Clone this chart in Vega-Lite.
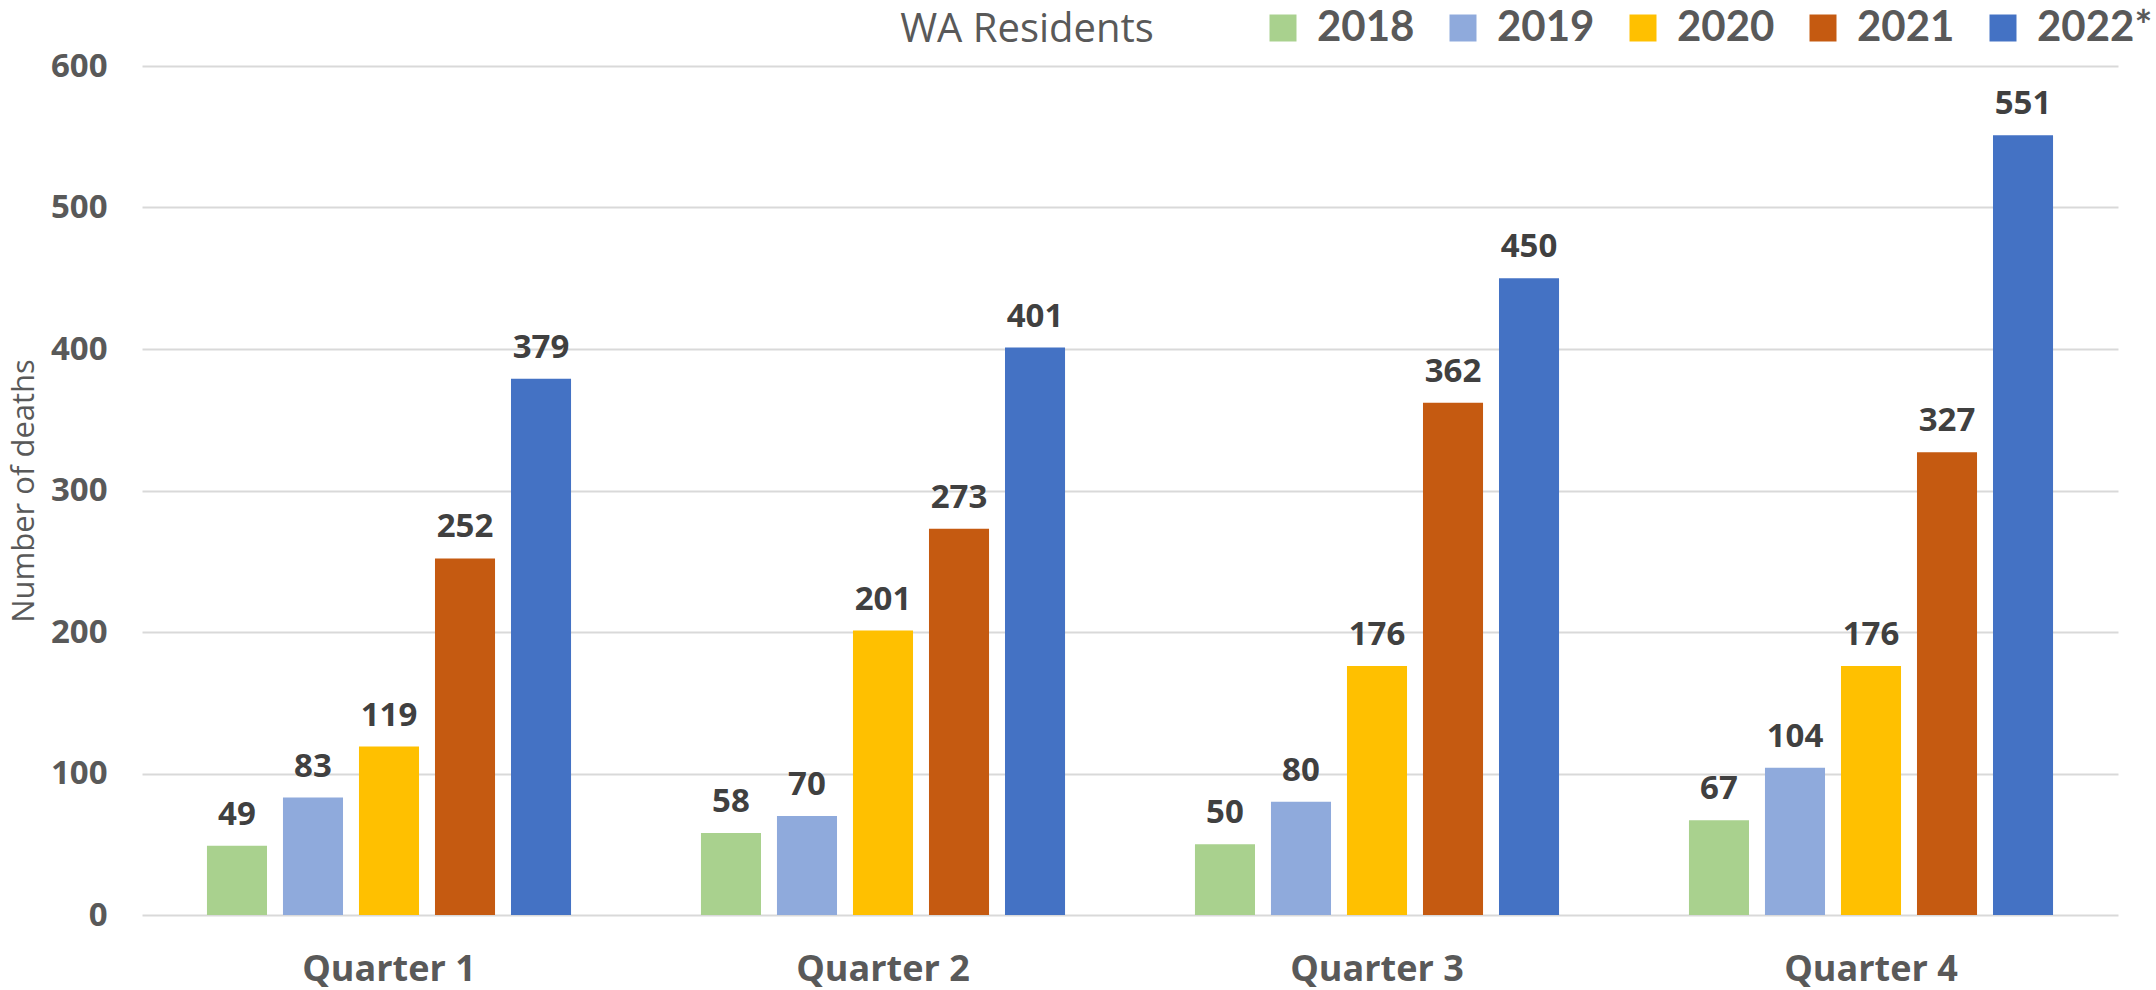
{
  "$schema": "https://vega.github.io/schema/vega-lite/v6.json",
  "width": 1976,
  "height": 849,
  "autosize": {"type": "none"},
  "padding": {"left": 142, "top": 66, "right": 38, "bottom": 75},
  "background": "white",
  "config": {"view": {"stroke": null}},
  "title": {
    "text": "WA Residents",
    "font": "Open Sans",
    "fontSize": 40,
    "fontWeight": "normal",
    "color": "#595959",
    "anchor": "middle",
    "frame": "group",
    "baseline": "alphabetic",
    "dx": -103,
    "dy": 100,
    "offset": 25
  },
  "data": {
    "values": [
      {"quarter": "Quarter 1", "year": "2018", "deaths": 49},
      {"quarter": "Quarter 1", "year": "2019", "deaths": 83},
      {"quarter": "Quarter 1", "year": "2020", "deaths": 119},
      {"quarter": "Quarter 1", "year": "2021", "deaths": 252},
      {"quarter": "Quarter 1", "year": "2022*", "deaths": 379},
      {"quarter": "Quarter 2", "year": "2018", "deaths": 58},
      {"quarter": "Quarter 2", "year": "2019", "deaths": 70},
      {"quarter": "Quarter 2", "year": "2020", "deaths": 201},
      {"quarter": "Quarter 2", "year": "2021", "deaths": 273},
      {"quarter": "Quarter 2", "year": "2022*", "deaths": 401},
      {"quarter": "Quarter 3", "year": "2018", "deaths": 50},
      {"quarter": "Quarter 3", "year": "2019", "deaths": 80},
      {"quarter": "Quarter 3", "year": "2020", "deaths": 176},
      {"quarter": "Quarter 3", "year": "2021", "deaths": 362},
      {"quarter": "Quarter 3", "year": "2022*", "deaths": 450},
      {"quarter": "Quarter 4", "year": "2018", "deaths": 67},
      {"quarter": "Quarter 4", "year": "2019", "deaths": 104},
      {"quarter": "Quarter 4", "year": "2020", "deaths": 176},
      {"quarter": "Quarter 4", "year": "2021", "deaths": 327},
      {"quarter": "Quarter 4", "year": "2022*", "deaths": 551}
    ]
  },
  "encoding": {
    "x": {
      "field": "quarter",
      "type": "nominal",
      "sort": null,
      "scale": {"paddingInner": 0.263, "paddingOuter": 0.1315},
      "axis": {
        "title": null,
        "domain": false,
        "ticks": false,
        "labelAngle": 0,
        "labelFont": "Open Sans",
        "labelFontSize": 36,
        "labelFontWeight": "bold",
        "labelColor": "#595959",
        "labelPadding": 37
      }
    },
    "xOffset": {
      "field": "year",
      "type": "nominal",
      "sort": null,
      "scale": {"paddingInner": 0.21, "paddingOuter": 0}
    },
    "y": {
      "field": "deaths",
      "type": "quantitative",
      "scale": {"domain": [0, 600], "nice": false},
      "axis": {
        "title": "Number of deaths",
        "values": [0, 100, 200, 300, 400, 500, 600],
        "domain": false,
        "ticks": false,
        "grid": true,
        "gridColor": "#d9d9d9",
        "gridWidth": 2,
        "labelFont": "Open Sans",
        "labelFontSize": 33,
        "labelFontWeight": "bold",
        "labelColor": "#595959",
        "labelPadding": 35,
        "titleFont": "Open Sans",
        "titleFontSize": 31,
        "titleFontWeight": "normal",
        "titleColor": "#595959",
        "titleBaseline": "alphabetic",
        "titleX": -109,
        "titleAngle": -90
      }
    }
  },
  "layer": [
    {
      "mark": {"type": "bar"},
      "encoding": {
        "color": {
          "field": "year",
          "type": "nominal",
          "sort": null,
          "scale": {
            "domain": ["2018", "2019", "2020", "2021", "2022*"],
            "range": ["#a9d18e", "#8faadc", "#ffc000", "#c55a11", "#4472c4"]
          },
          "legend": {
            "title": null,
            "orient": "none",
            "direction": "horizontal",
            "legendX": 1120,
            "legendY": -59,
            "padding": 0,
            "symbolType": "square",
            "symbolSize": 729,
            "symbolStrokeWidth": 0,
            "symbolOpacity": 1,
            "labelFont": "Lato",
            "labelFontSize": 42,
            "labelFontWeight": "bold",
            "labelColor": "#595959",
            "labelOffset": 13,
            "columnPadding": 27
          }
        }
      }
    },
    {
      "mark": {
        "type": "text",
        "baseline": "alphabetic",
        "dy": -21,
        "font": "Open Sans",
        "fontSize": 33,
        "fontWeight": "bold",
        "color": "#404040"
      },
      "encoding": {
        "text": {"field": "deaths", "type": "quantitative"}
      }
    }
  ]
}
